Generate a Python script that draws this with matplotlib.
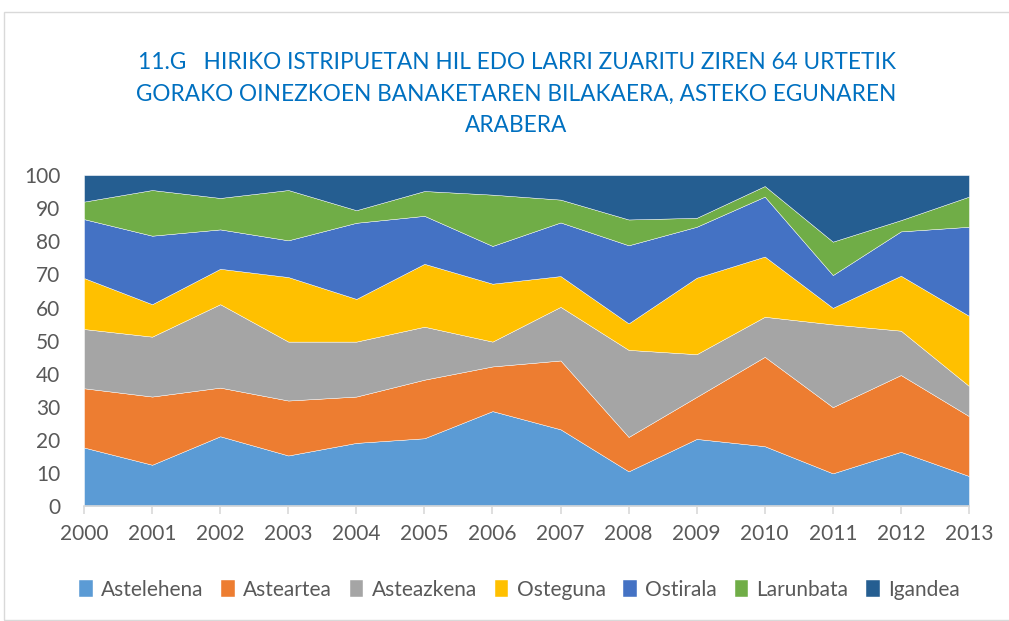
import matplotlib.pyplot as plt
from matplotlib.patches import Rectangle

# Years and share (%) of injured/killed elderly pedestrians by weekday
years = list(range(2000, 2014))
astelehena = [17.7, 12.5, 21.1, 15.3, 19.1, 20.5, 28.7, 23.2, 10.5, 20.3, 18.1, 9.9, 16.4, 9.1]
asteartea = [17.9, 20.6, 14.7, 16.6, 14.0, 17.7, 13.5, 20.8, 10.4, 12.7, 27.0, 20.0, 23.2, 18.1]
asteazkena = [17.9, 18.1, 25.2, 17.8, 16.6, 16.0, 7.5, 16.2, 26.3, 12.9, 12.1, 25.0, 13.4, 9.1]
osteguna = [15.4, 9.8, 10.7, 19.5, 12.9, 19.0, 17.5, 9.3, 8.0, 23.1, 18.2, 5.0, 16.6, 21.2]
ostirala = [17.8, 20.7, 11.9, 11.1, 23.0, 14.5, 11.4, 16.2, 23.6, 15.4, 18.1, 9.9, 13.4, 26.9]
larunbata = [5.3, 13.8, 9.5, 15.2, 3.8, 7.5, 15.5, 6.9, 7.8, 2.7, 3.2, 10.1, 3.4, 9.1]
igandea = [8.0, 4.5, 6.9, 4.5, 10.6, 4.8, 5.9, 7.4, 13.4, 12.9, 3.3, 20.1, 13.6, 6.5]

labels = ['Astelehena', 'Asteartea', 'Asteazkena', 'Osteguna', 'Ostirala', 'Larunbata', 'Igandea']
colors = ['#5B9BD5', '#ED7D31', '#A5A5A5', '#FFC000', '#4472C4', '#70AD47', '#255E91']

plt.rcParams['font.family'] = ['Lato', 'DejaVu Sans']

fig = plt.figure(figsize=(10.09, 6.21), dpi=100)
ax = fig.add_axes([0.0833, 0.185, 0.877, 0.533])

# chart frame
fig.patches.append(Rectangle((4 / 1009, 0.002), 1.2, 0.979, transform=fig.transFigure,
                             fill=False, edgecolor='#D9D9D9', linewidth=1))

ax.stackplot(years, astelehena, asteartea, asteazkena, osteguna, ostirala, larunbata, igandea,
             labels=labels, colors=colors, edgecolor='white', linewidth=0.3)

ax.set_xlim(2000, 2013)
ax.set_ylim(0, 100)
ax.set_yticks(range(0, 101, 10))
ax.set_xticks(years)
ax.tick_params(axis='y', length=0, labelsize=15, labelcolor='#595959', pad=17)
ax.tick_params(axis='x', length=6, color='#D9D9D9', width=1.2, labelsize=15,
               labelcolor='#595959', pad=7)
for s in ['top', 'right', 'left']:
    ax.spines[s].set_visible(False)
ax.spines['bottom'].set_color('#D9D9D9')
ax.spines['bottom'].set_linewidth(1.2)

fig.text(0.512, 0.848, '11.G   HIRIKO ISTRIPUETAN HIL EDO LARRI ZUARITU ZIREN 64 URTETIK\n'
         'GORAKO OINEZKOEN BANAKETAREN BILAKAERA, ASTEKO EGUNAREN\nARABERA',
         ha='center', va='center', fontsize=16.3, color='#0070C0', linespacing=1.62)

fig.legend(loc='center', bbox_to_anchor=(0.515, 0.05), ncol=7, frameon=False,
           fontsize=15, handlelength=0.65, handleheight=0.85, handletextpad=0.4,
           columnspacing=0.85, labelcolor='#595959')

plt.savefig('out.png', dpi=100)
